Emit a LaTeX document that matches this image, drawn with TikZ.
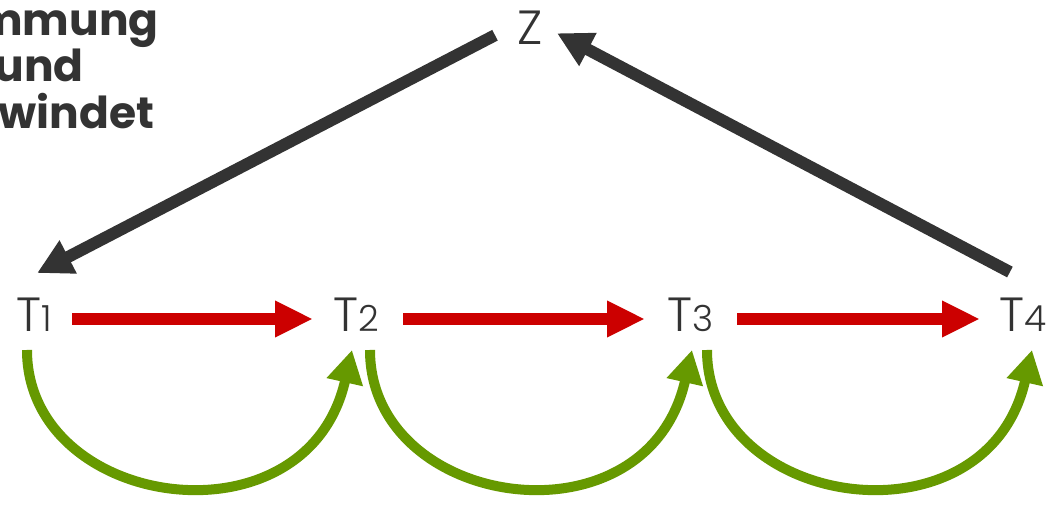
\documentclass[tikz,border=0pt]{standalone}
\usepackage{fontspec}
\setmainfont{Poppins}[UprightFont=* Light, BoldFont=* Bold]
\usetikzlibrary{arrows.meta,calc}
\definecolor{dgray}{HTML}{333333}
\definecolor{tred}{HTML}{CC0000}
\definecolor{tgreen}{HTML}{669900}
\newcommand{\tlab}[1]{T{\fontsize{18}{18}\selectfont #1}}

\begin{document}
\begin{tikzpicture}[x=0.5pt,y=-0.5pt,
  lab/.style={font=\fontsize{24}{24}\selectfont,text=dgray,inner sep=0pt,anchor=base west},
  back/.style={line width=6pt,dgray,-{Triangle[length=17.5pt,width=17.5pt]}},
  fwd/.style={line width=6pt,tred,-{Triangle[length=19pt,width=17pt]}},
  hop/.style={line width=5pt,tgreen,-{Triangle[length=16.5pt,width=17.5pt]}}]
\useasboundingbox (0,0) rectangle (1046,507);
\node[anchor=north west,align=left,inner sep=0pt,text=dgray,
  font=\bfseries\fontsize{22}{23.2}\selectfont] (note) at (-2,10)
  {\hspace*{-11pt}mmung\\\hspace*{-2pt}und\\windet};
\node[lab] (Z) at (517,45) {Z};
\node[lab] (T1) at (16,332) {\tlab{1}};
\node[lab] (T2) at (333,332) {\tlab{2}};
\node[lab] (T3) at (667,332) {\tlab{3}};
\node[lab] (T4) at (999,332) {\tlab{4}};
% rueckwege ueber Z
\draw[back] ($(Z.west)+(-22,7)$) -- ($(T1.north)+(3,-25)$);
\draw[back] ($(T4.north)+(-13,-26)$) -- ($(Z.east)+(14,5)$);
% direkte folge
\draw[fwd] ($(T1.base west)+(56,-13)$) -- ($(T2.base west)+(-20,-13)$);
\draw[fwd] ($(T2.base west)+(70,-13)$) -- ($(T3.base west)+(-22,-13)$);
\draw[fwd] ($(T3.base west)+(70,-13)$) -- ($(T4.base west)+(-19,-13)$);
% boegen unten
\draw[hop] ($(T1.base west)+(11,18)$) .. controls +(0,160) and +(-45,200) .. ($(T2.base west)+(19,18)$);
\draw[hop] ($(T2.base west)+(37,18)$) .. controls +(0,160) and +(-45,200) .. ($(T3.base west)+(25,18)$);
\draw[hop] ($(T3.base west)+(40,18)$) .. controls +(0,160) and +(-45,200) .. ($(T4.base west)+(33,18)$);
\end{tikzpicture}
\end{document}
